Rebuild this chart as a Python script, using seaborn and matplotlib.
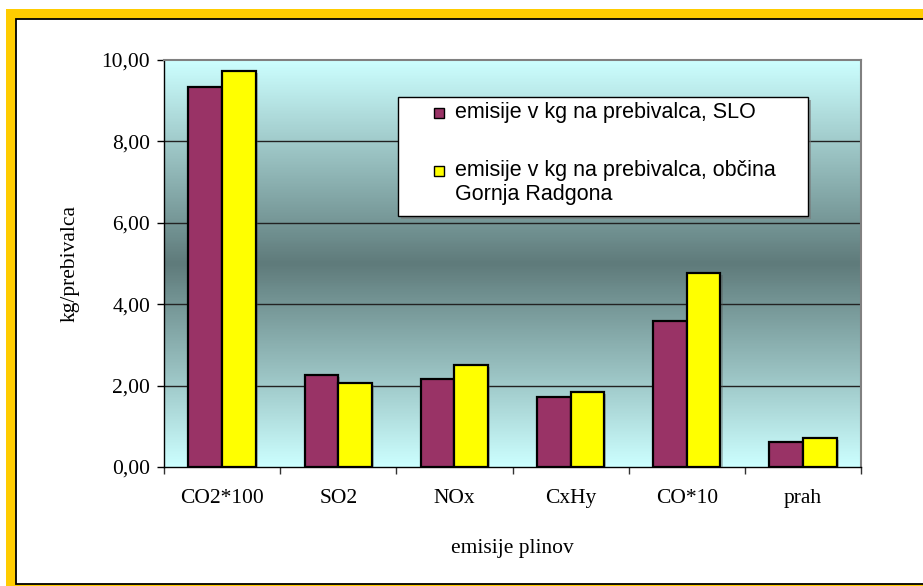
import numpy as np
import pandas as pd
import matplotlib
matplotlib.use("Agg")
import matplotlib.pyplot as plt
from matplotlib.patches import Rectangle
from matplotlib.colors import LinearSegmentedColormap
from matplotlib.ticker import FuncFormatter, FixedLocator
import matplotlib.patheffects as pe
import seaborn as sns

# Emissions per inhabitant (kg), by gas
categories = ["CO2*100", "SO2", "NOx", "CxHy", "CO*10", "prah"]
slo = [9.33, 2.26, 2.15, 1.71, 3.58, 0.62]
gornja_radgona = [9.72, 2.06, 2.50, 1.85, 4.76, 0.72]
series_names = ["emisije v kg na prebivalca, SLO",
                "emisije v kg na prebivalca, občina\nGornja Radgona"]
series_colors = ["#993366", "#FFFF00"]
y_ticks = [0, 2, 4, 6, 8, 10]

df = pd.DataFrame({
    "plin": categories * 2,
    "vrednost": slo + gornja_radgona,
    "serija": [series_names[0]] * len(categories) + [series_names[1]] * len(categories),
})

sns.set_theme(style="white")
plt.rcParams["font.family"] = ["Liberation Serif", "DejaVu Serif"]

W, H = 923, 586
fig = plt.figure(figsize=(W / 100, H / 100), dpi=100)
fig.patch.set_facecolor("white")

def fx(px):
    return px / W

def fy(py):
    return 1 - py / H

# Yellow frame with thin black inner border
fig.patches.append(Rectangle((fx(5.5), fy(587)), fx(930) - fx(5.5), fy(9) - fy(587),
                             transform=fig.transFigure, facecolor="#FFCC00",
                             edgecolor="none", zorder=0))
fig.patches.append(Rectangle((fx(15.8), fy(584)), fx(940) - fx(15.8), fy(19) - fy(584),
                             transform=fig.transFigure, facecolor="white",
                             edgecolor="black", linewidth=1.3, zorder=0.1))

ax = fig.add_axes([fx(164), fy(467), fx(861) - fx(164), fy(60) - fy(467)])
ax.set_zorder(1)

# Background gradient: light cyan at top and bottom, dark teal in the middle
cmap = LinearSegmentedColormap.from_list("bg", ["#CCFFFF", "#5F7B7B", "#CCFFFF"])
grad = np.linspace(0, 1, 400).reshape(-1, 1)
ax.imshow(grad, cmap=cmap, aspect="auto", extent=[-0.5, 5.5, 0, 10],
          origin="upper", zorder=0)

for v in y_ticks[1:-1]:
    ax.axhline(v, color="#222222", linewidth=1.0, zorder=1)

sns.barplot(data=df, x="plin", y="vrednost", hue="serija", order=categories,
            hue_order=series_names, palette=series_colors,
            width=0.58, edgecolor="black", linewidth=1.6, saturation=1,
            errorbar=None, ax=ax, zorder=3, legend=False)

for bar in ax.patches:
    bar.set_path_effects([pe.SimplePatchShadow(offset=(1.5, -1.5), alpha=0.35,
                                               shadow_rgbFace="#555555"),
                          pe.Normal()])

ax.set_xlim(-0.5, 5.5)
ax.set_ylim(0, 10)
ax.set_yticks(y_ticks)
ax.yaxis.set_major_formatter(FuncFormatter(lambda v, p: f"{v:.2f}".replace(".", ",")))
ax.tick_params(axis="y", which="major", direction="out", length=5, width=1,
               color="black", labelsize=15.5, pad=5, left=True)
ax.tick_params(axis="x", which="major", length=0, labelsize=15.5, pad=16)
ax.xaxis.set_minor_locator(FixedLocator(np.arange(-0.5, 6.0, 1.0)))
ax.tick_params(axis="x", which="minor", direction="out", length=5, width=1,
               color="#333333", bottom=True)
for lab in ax.get_xticklabels() + ax.get_yticklabels():
    lab.set_color("black")

for side in ["left", "bottom"]:
    ax.spines[side].set_color("black")
    ax.spines[side].set_linewidth(1.0)
for side in ["top", "right"]:
    ax.spines[side].set_color("#808080")
    ax.spines[side].set_linewidth(1.5)
    ax.spines[side].set_visible(True)

ax.set_ylabel("kg/prebivalca", fontsize=15.5, color="black", labelpad=16)
ax.set_xlabel("emisije plinov", fontsize=15.5, color="black", labelpad=22)

# Legend box drawn in figure pixel coordinates
legend_box = Rectangle((fx(398), fy(216)), fx(808) - fx(398), fy(97) - fy(216),
                       transform=fig.transFigure, facecolor="white",
                       edgecolor="black", linewidth=1.0, zorder=5)
legend_box.set_path_effects([pe.SimplePatchShadow(offset=(2, -2), alpha=0.6,
                                                  shadow_rgbFace="#777777"),
                             pe.Normal()])
fig.patches.append(legend_box)

key_rows = [(108, [118]), (166, [176, 200])]
for (key_top, baselines), name, color in zip(key_rows, series_names, series_colors):
    fig.patches.append(Rectangle((fx(434), fy(key_top + 10)), fx(10), fy(0) - fy(10),
                                 transform=fig.transFigure, facecolor=color,
                                 edgecolor="black", linewidth=1.0, zorder=6))
    for line, base in zip(name.split("\n"), baselines):
        fig.text(fx(455), fy(base), line, fontsize=15.5, family="Liberation Sans",
                 color="black", ha="left", va="baseline", zorder=6)

fig.savefig("out.png", dpi=100)
